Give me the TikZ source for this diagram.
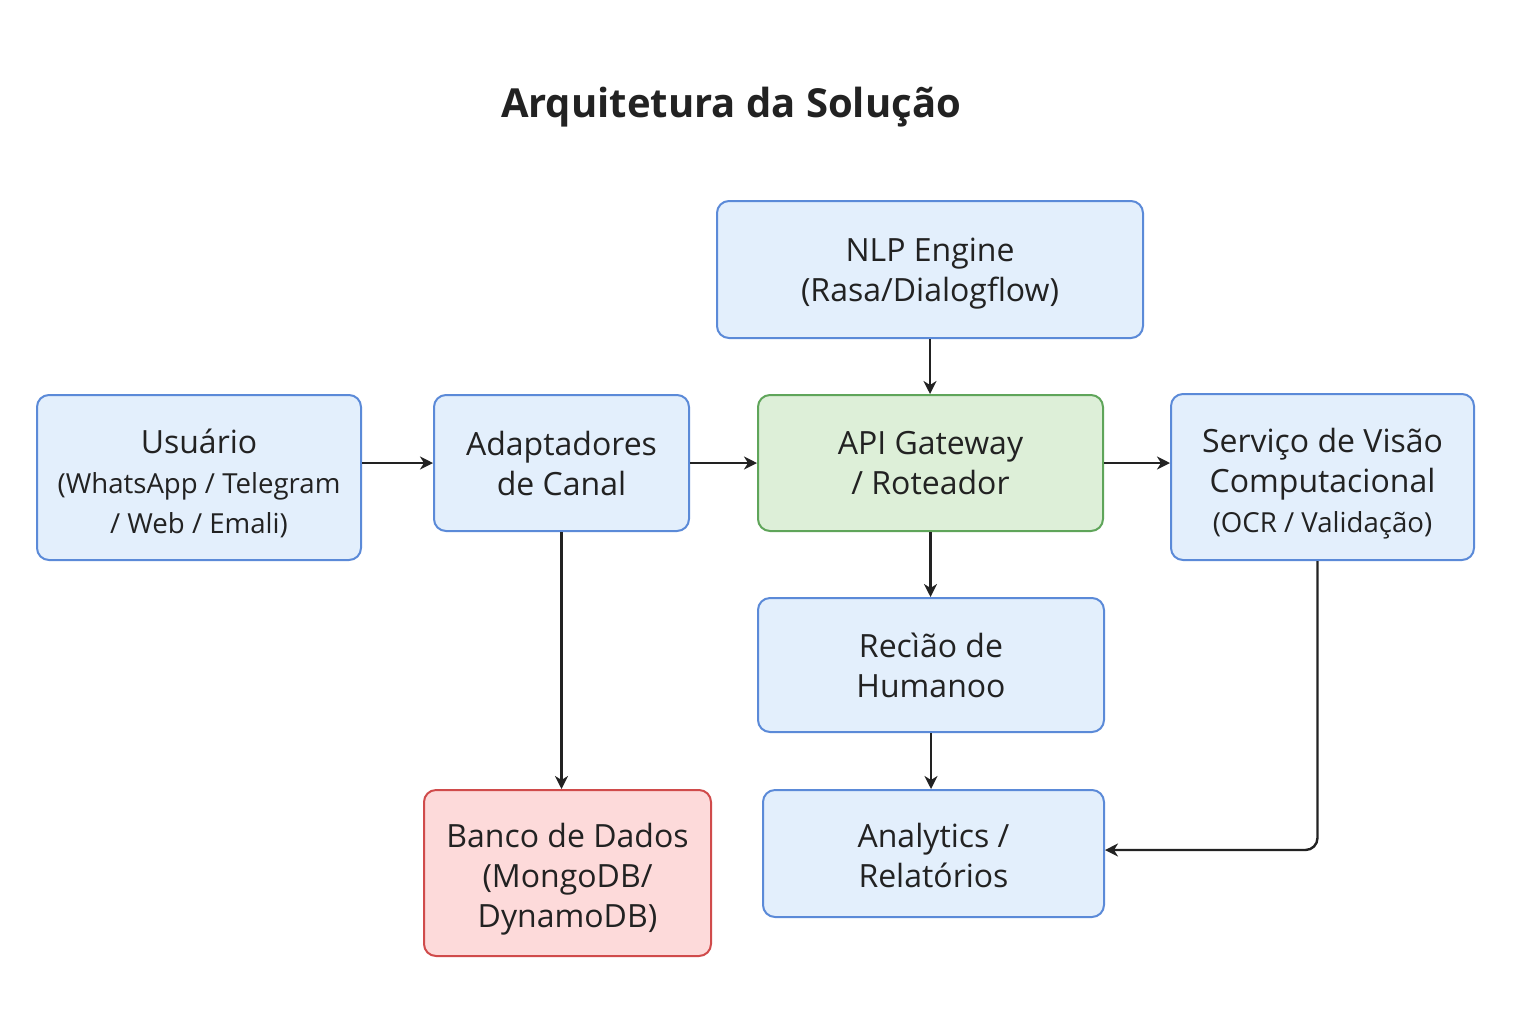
\documentclass[tikz,border=0pt]{standalone}
\usepackage{fontspec}
\setmainfont{Open Sans}
\usetikzlibrary{arrows.meta}
\definecolor{txt}{HTML}{222222}
\definecolor{bfill}{HTML}{E3EFFC}
\definecolor{bdraw}{HTML}{5B8AD8}
\definecolor{gfill}{HTML}{DDEFD8}
\definecolor{gdraw}{HTML}{5FA55A}
\definecolor{rfill}{HTML}{FDDADA}
\definecolor{rdraw}{HTML}{D04B4B}
\newcommand\mainsz{\fontsize{16}{20}\selectfont}
\newcommand\smsz{\fontsize{13.8}{18}\selectfont}
\tikzset{
  boxbase/.style={rounded corners=6pt, line width=1pt, align=center, text=txt, font=\mainsz, inner sep=0pt},
  bluebox/.style={boxbase, fill=bfill, draw=bdraw},
  greenbox/.style={boxbase, fill=gfill, draw=gdraw},
  redbox/.style={boxbase, fill=rfill, draw=rdraw},
  lbl/.style={align=center, text=txt, font=\mainsz, inner sep=0pt},
  arr/.style={-{Stealth[length=6.5pt,width=6.5pt,inset=2pt]}, line width=1.2pt, draw=txt},
}
\begin{document}
\begin{tikzpicture}[x=0.5pt,y=-0.5pt]
\useasboundingbox (0,0) rectangle (1536,1024);
\node[text=txt, font=\fontsize{20}{24}\selectfont\bfseries] (title) at (731,107) {Arquitetura da Solução};

\node[bluebox, minimum width=162pt, minimum height=82.5pt] (u) at (199,477.5) {};
\node[lbl] (ut) at ([yshift=-3pt]u.center)
  {Usuário\\{\smsz (WhatsApp / Telegram}\\{\smsz / Web / Emali)}};
\node[bluebox, minimum width=127.5pt, minimum height=68pt] (a) at (561.5,463)
  {Adaptadores\\de Canal};
\node[bluebox, minimum width=213pt, minimum height=68.5pt] (n) at (930,269.5) {};
\node[lbl] (nt) at ([yshift=-2pt]n.center) {NLP Engine\\(Rasa/Dialogflow)};
\node[greenbox, minimum width=172.5pt, minimum height=68pt] (g) at (930.5,463)
  {API Gateway\\/ Roteador};
\node[bluebox, minimum width=151.5pt, minimum height=83pt] (s) at (1322.5,477) {};
\node[lbl] (st) at ([yshift=-3.5pt]s.center)
  {Serviço de Visão\\Computacional\\{\smsz (OCR / Validação)}};
\node[bluebox, minimum width=173pt, minimum height=67pt] (r) at (931,665)
  {Recìão de\\Humanoo};
\node[bluebox, minimum width=170.5pt, minimum height=63.5pt] (an) at (933.5,853.5) {};
\node[lbl] (ant) at ([yshift=-1pt]an.center) {Analytics /\\Relatórios};
\node[redbox, minimum width=143.5pt, minimum height=83pt] (b) at (567.5,873) {};
\node[lbl] (bt) at ([yshift=-3pt]b.center) {Banco de Dados\\(MongoDB/\\DynamoDB)};

\draw[arr] (u.east |- a.west) -- (a.west);
\draw[arr] (a.east) -- (g.west);
\draw[arr] (g.east) -- (g.east -| s.west);
\draw[arr] (n.south) -- (n.south |- g.north);
\draw[arr] (g.south) -- (g.south |- r.north);
\draw[arr] (r.south) -- (r.south |- an.north);
\draw[arr] (a.south) -- (a.south |- b.north);
\draw[arr, rounded corners=6pt] ([xshift=-2.5pt]s.south) |- ([yshift=1.75pt]an.east);
\end{tikzpicture}
\end{document}
